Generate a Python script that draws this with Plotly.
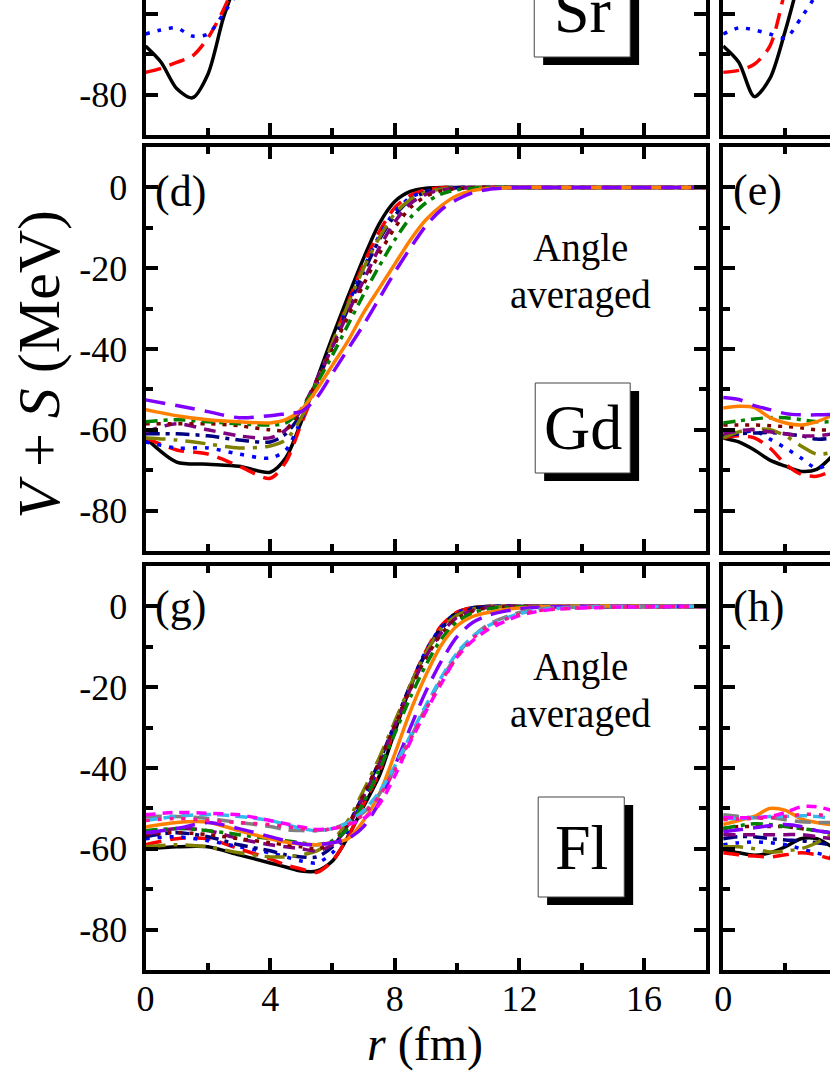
import plotly.graph_objects as go

W, H = 830, 1075

# radial grids (fm)
R_LEFT = [0, 1, 2, 3, 4, 4.5, 5, 5.5, 6, 6.5, 7, 7.5, 8, 8.5, 9, 9.5, 10, 10.5, 11, 12, 13, 18]
R_RIGHT = [0, 0.5, 1, 1.5, 2, 2.5, 3, 3.5, 4]

# Sr panels (only the bottom part is in view)
a_black = [-68, -72, -78.5, -80.8, -75, -61, -50, -38, -27]
a_red = [-74.5, -73.5, -72, -70.5, -66, -59, -50, -40, -30]
a_blue = [-65, -64, -63.5, -65.5, -65, -60, -54, -45, -36]

b_black = [-68, -72, -80.5, -76, -64, -50, -38, -27, -18]
b_red = [-74.5, -74, -72.5, -68, -54, -42, -32, -24, -17]
b_blue = [-65, -63.5, -64, -65, -66, -61, -55, -47, -38]

# Gd, angle averaged
d_black = [-62, -68, -68.5, -69, -70.5, -67, -58, -47.5, -37, -27, -17.5, -9, -3.5, -1, -0.2, 0, 0, 0, 0, 0, 0, 0]
d_red = [-62, -65, -66, -69, -72, -68, -58.5, -49, -38.5, -28.5, -19, -11, -5, -2, -0.6, -0.1, 0, 0, 0, 0, 0, 0]
d_blue = [-63, -64.5, -64.5, -66, -67, -65, -57.5, -49, -39, -29, -20, -12, -6, -2.5, -1, -0.3, 0, 0, 0, 0, 0, 0]
d_navy = [-61, -61, -61.5, -62.5, -63, -61, -56, -48, -39, -30, -21, -13, -7, -3, -1.2, -0.4, -0.1, 0, 0, 0, 0, 0]
d_olive = [-62, -62.5, -63.5, -64.5, -64, -62.5, -57, -48, -38.5, -29, -20, -12.5, -6.5, -3, -1.2, -0.4, -0.1, 0, 0, 0, 0, 0]
d_purple = [-60.5, -58.5, -60, -61.5, -62, -60, -55, -47.5, -39.5, -31, -23, -15, -8.5, -4, -1.7, -0.6, -0.2, 0, 0, 0, 0, 0]
d_maroon = [-58.5, -58.5, -58.5, -59, -60, -60, -55, -48, -40, -32, -24, -16.5, -10, -5, -2.2, -0.8, -0.3, -0.1, 0, 0, 0, 0]
d_green = [-58, -57.5, -58, -58.5, -58.8, -58.3, -55, -48.5, -41.5, -34, -26.5, -19.5, -13, -7.5, -3.8, -1.6, -0.6, -0.2, 0, 0, 0, 0]
d_orange = [-55, -56.5, -57.5, -58, -58.3, -57.5, -55, -50, -44, -38, -31, -25, -19, -13, -8, -4.5, -2, -0.8, -0.3, 0, 0, 0]
d_violet = [-52.6, -54, -55.5, -57, -56.5, -56, -55.5, -52, -46, -40, -34, -27.5, -21, -15, -9.5, -5.5, -3, -1.3, -0.5, 0, 0, 0]

e_black = [-62, -63, -65, -67.5, -69, -70.3, -69.8, -66.5, -62]
e_red = [-62, -61.5, -62, -64.5, -68.5, -71, -71.5, -70, -66]
e_blue = [-61.5, -61, -60.3, -62.3, -64.5, -67, -69.5, -68, -64]
e_navy = [-61.6, -61, -60.8, -60.7, -61, -61.5, -62.3, -62, -61]
e_olive = [-62, -60.5, -59.8, -60, -61.5, -64, -66, -65.5, -63]
e_purple = [-61, -60.2, -60, -60.5, -61, -61.5, -61.5, -61, -60]
e_maroon = [-58.8, -58.8, -58.8, -59, -59.2, -59.5, -60, -60, -59.5]
e_green = [-58.3, -57.8, -57.3, -57, -57, -57.5, -58, -58, -57.5]
e_orange = [-54.6, -54.2, -54.5, -57, -58.3, -58.8, -58, -56.5, -55.5]
e_violet = [-52, -52.5, -54, -55, -56, -56.3, -56.3, -56.2, -56]

# Fl, angle averaged
g_black = [-60, -59.5, -59.5, -61.5, -63.5, -64.5, -65.5, -65.5, -63, -57, -49.5, -42, -31, -20, -11.5, -5, -1.5, -0.3, 0, 0, 0, 0]
g_red = [-59, -57.5, -57.5, -60, -62.5, -64, -65, -65.8, -63, -57, -49, -41, -30, -19.5, -11, -4.7, -1.4, -0.3, 0, 0, 0, 0]
g_blue = [-57.5, -57, -58, -59.5, -61, -62, -63, -63.5, -61, -55.5, -47.5, -39.5, -29.5, -19.5, -11, -5, -1.6, -0.4, 0, 0, 0, 0]
g_navy = [-57, -56, -57, -59, -60.5, -61.5, -62, -62, -59.5, -54, -46.5, -38.5, -29, -19.5, -11.5, -5.5, -2, -0.6, 0, 0, 0, 0]
g_olive = [-59.5, -59, -59.5, -61, -62, -62, -61.5, -60.5, -58, -53, -45.5, -37.5, -28.5, -19.5, -11.5, -5.5, -2.2, -0.7, -0.2, 0, 0, 0]
g_purple = [-56.5, -55, -55.5, -57.5, -59, -59.5, -60, -60.5, -59, -54.5, -47, -39, -29.5, -20.5, -12.5, -6.5, -2.7, -1, -0.3, 0, 0, 0]
g_maroon = [-56.5, -56, -56.5, -57.5, -58.5, -59, -59.5, -60, -58.5, -54, -46.5, -38.5, -29.5, -20.5, -12.8, -6.8, -3, -1.2, -0.4, 0, 0, 0]
g_green = [-55.5, -55, -55.5, -56.5, -57.5, -58, -58.5, -59, -58, -55, -48.5, -40.5, -31.5, -22.5, -14.5, -8, -3.8, -1.6, -0.6, -0.1, 0, 0]
g_orange = [-54.6, -53.5, -53.4, -55.5, -57.5, -58.3, -58.8, -59, -58.5, -57.5, -53, -46.5, -36.5, -26, -17, -9.5, -4.8, -2.5, -1.5, -0.4, 0, 0]
g_violet = [-56, -55, -53.5, -55, -57, -58, -58.8, -59, -58.5, -57.5, -54.5, -48.5, -39.5, -30, -21, -13.5, -7.5, -4, -2.2, -0.6, -0.1, 0]
g_gray = [-52, -52, -52.5, -53.5, -54.5, -55.3, -55.5, -55.5, -55, -53.5, -51, -46.5, -40, -32.5, -25, -18, -12, -7.5, -4.5, -1.5, -0.4, 0]
g_skyblue = [-53, -52, -51.5, -52, -53, -54, -55, -55.5, -55, -53.5, -50.5, -46, -39.5, -32, -24.5, -17.5, -11.5, -7.5, -4.8, -1.8, -0.6, 0]
g_magenta = [-51.6, -51, -51.2, -51.6, -53, -53.8, -54.6, -55.2, -55, -54, -52.5, -49, -42, -33.5, -26, -19, -12.5, -8.5, -5.7, -2.3, -0.8, 0]
g_pink = [-53, -52.5, -53, -53.5, -54, -54.5, -55, -55.5, -55, -54, -51.5, -47, -40.5, -33, -25.5, -18.5, -12.5, -8, -5, -2, -0.7, 0]

h_black = [-60.3, -61, -61.6, -61, -59.5, -57.5, -57.5, -59.5, -61]
h_red = [-61, -61.5, -61.8, -62, -61.5, -61, -61.5, -62.5, -62]
h_blue = [-59, -58.5, -58.3, -58.5, -59, -60, -61, -62, -62]
h_navy = [-57.5, -57, -57, -57.5, -57.8, -58, -58.5, -59, -59]
h_olive = [-59.5, -59.5, -60, -60.8, -60.5, -60, -58.5, -56.5, -57]
h_purple = [-56.5, -56.5, -56.5, -56.5, -56.5, -56.5, -57, -57.5, -57.5]
h_maroon = [-55, -54.5, -54.5, -54.5, -54.5, -55, -55.5, -56, -56]
h_green = [-55, -54.3, -53.8, -54, -54.5, -55, -55.5, -56, -56]
h_orange = [-54, -53, -52, -50, -50.5, -52.6, -53.5, -54, -54]
h_violet = [-55.8, -55.3, -54.8, -54.3, -54, -54.5, -55.5, -56, -56]
h_gray = [-51.6, -52, -52.3, -52.3, -52.8, -53.3, -53.5, -53.5, -53.5]
h_skyblue = [-52.5, -52.5, -52.3, -52, -52, -51.8, -52, -52.5, -53]
h_magenta = [-52.3, -52.3, -52.3, -52, -51, -49.6, -49.6, -50.5, -51.5]
h_pink = [-52.8, -52.6, -52.5, -52.3, -52, -51.5, -51.5, -52, -52.5]

Y_TICKS = [0, -20, -40, -60, -80]
Y_TICKTEXT = ["0", "-20", "-40", "-60", "-80"]
X_TICKS = [0, 4, 8, 12, 16]

STYLE = {
    "black": ("#000000", "solid"),
    "red": ("#ff0000", "16px,9px"),
    "blue": ("#0000ff", "4px,8px"),
    "navy": ("#000080", "14px,6px,4px,6px"),
    "olive": ("#808000", "20px,8px,4px,8px"),
    "purple": ("#800080", "12px,8px"),
    "maroon": ("#800000", "4px,7px"),
    "green": ("#008000", "12px,6px,4px,6px"),
    "orange": ("#ff8000", "solid"),
    "violet": ("#8000ff", "20px,10px"),
    "gray": ("#808080", "16px,8px"),
    "skyblue": ("#33bbee", "12px,6px"),
    "magenta": ("#ff00ff", "10px,7px"),
    "pink": ("#ff1493", "4px,8px"),
}

panels = [
    (0, 0, R_RIGHT, {"black": a_black, "red": a_red, "blue": a_blue}),
    (1, 0, R_RIGHT, {"black": b_black, "red": b_red, "blue": b_blue}),
    (0, 1, R_LEFT, {"black": d_black, "red": d_red, "blue": d_blue, "navy": d_navy, "olive": d_olive,
                    "purple": d_purple, "maroon": d_maroon, "green": d_green, "orange": d_orange,
                    "violet": d_violet}),
    (1, 1, R_RIGHT, {"black": e_black, "red": e_red, "blue": e_blue, "navy": e_navy, "olive": e_olive,
                     "purple": e_purple, "maroon": e_maroon, "green": e_green, "orange": e_orange,
                     "violet": e_violet}),
    (0, 2, R_LEFT, {"black": g_black, "red": g_red, "blue": g_blue, "navy": g_navy, "olive": g_olive,
                    "purple": g_purple, "maroon": g_maroon, "green": g_green, "orange": g_orange,
                    "violet": g_violet, "gray": g_gray, "skyblue": g_skyblue, "magenta": g_magenta,
                    "pink": g_pink}),
    (1, 2, R_RIGHT, {"black": h_black, "red": h_red, "blue": h_blue, "navy": h_navy, "olive": h_olive,
                     "purple": h_purple, "maroon": h_maroon, "green": h_green, "orange": h_orange,
                     "violet": h_violet, "gray": h_gray, "skyblue": h_skyblue, "magenta": h_magenta,
                     "pink": h_pink}),
]

# pixel layout of the (cropped) grid
PX_PER_FM = 31.5
COLS = [(138, 705), (722, 830)]
ROWS = [(0, 135), (147, 551), (566, 970)]
PX_PER_MEV = 404 / 100.0

FONT = "Liberation Serif, Times New Roman, Times, DejaVu Serif, serif"


def fx(px):
    return px / W


def fy(py):
    return 1 - py / H


fig = go.Figure()
layout = {}
for i, (col, row, r, curves) in enumerate(panels):
    n = "" if i == 0 else str(i + 1)
    xa, ya = "x" + n, "y" + n
    for name, vals in curves.items():
        color, dash = STYLE[name]
        fig.add_trace(go.Scatter(
            x=r, y=vals, xaxis=xa, yaxis=ya, mode="lines",
            line=dict(color=color, dash=dash, width=3.5, shape="spline", smoothing=0.8),
            showlegend=False, hoverinfo="skip"))

    x0, x1 = COLS[col]
    y0, y1 = ROWS[row]
    ybot = -90
    ytop = ybot + (y1 - y0) / PX_PER_MEV if row == 0 else 10
    axis = dict(showline=True, linewidth=4, linecolor="black", ticks="inside", ticklen=12,
                tickwidth=3.5, tickcolor="black", showgrid=False, zeroline=False,
                tickfont=dict(family=FONT, size=36, color="black"))
    layout["xaxis" + n] = dict(
        axis, domain=[fx(x0), fx(x1)], range=[0, (x1 - x0) / PX_PER_FM], anchor=ya,
        tickmode="array", tickvals=X_TICKS, ticktext=[str(t) for t in X_TICKS],
        minor=dict(ticks="inside", ticklen=7, tickwidth=3.5, tickcolor="black",
                   tickmode="array", tickvals=[2, 6, 10, 14]),
        ticklabelstandoff=-6,
        mirror="ticks" if row > 0 else False, showticklabels=(row == 2))
    layout["yaxis" + n] = dict(
        axis, domain=[fy(y1), fy(y0)], range=[ybot, ytop], anchor=xa,
        tickmode="array", tickvals=Y_TICKS, ticktext=Y_TICKTEXT,
        minor=dict(ticks="inside", ticklen=7, tickwidth=3.5, tickcolor="black",
                   tickmode="array", tickvals=[-90, -70, -50, -30, -10]),
        ticklabelstandoff=7,
        mirror="ticks" if col == 0 else False, showticklabels=(col == 0))

shapes = []
annotations = []

# element boxes with drop shadow
BOXES = [("Sr", 531, -35, 628, 57), ("Gd", 532, 383, 628, 473), ("Fl", 535, 797, 622, 897)]
for label, bx0, by0, bx1, by1 in BOXES:
    shapes.append(dict(type="rect", xref="paper", yref="paper", x0=fx(bx0 + 9), x1=fx(bx1 + 9),
                       y0=fy(by1 + 8), y1=fy(by0 + 8), fillcolor="black", line=dict(width=0)))
    shapes.append(dict(type="rect", xref="paper", yref="paper", x0=fx(bx0), x1=fx(bx1),
                       y0=fy(by1), y1=fy(by0), fillcolor="white", line=dict(color="#444444", width=1)))
    annotations.append(dict(text=label, xref="paper", yref="paper", x=fx((bx0 + bx1) / 2),
                            y=fy((by0 + by1) / 2), showarrow=False, xanchor="center", yanchor="middle",
                            font=dict(family=FONT, size=64, color="black")))

for lab, lx, ly in [("(d)", 146, 192), ("(e)", 730, 190), ("(g)", 146, 606), ("(h)", 730, 606)]:
    annotations.append(dict(text=lab, xref="paper", yref="paper", x=fx(lx), y=fy(ly), showarrow=False,
                            xanchor="left", yanchor="middle", font=dict(family=FONT, size=44, color="black")))

for top in (147, 566):
    annotations.append(dict(text="Angle", xref="paper", yref="paper", x=fx(578), y=fy(top + 101),
                            showarrow=False, xanchor="center", yanchor="middle",
                            font=dict(family=FONT, size=39, color="black")))
    annotations.append(dict(text="averaged", xref="paper", yref="paper", x=fx(578), y=fy(top + 148),
                            showarrow=False, xanchor="center", yanchor="middle",
                            font=dict(family=FONT, size=39, color="black")))

annotations.append(dict(text="<i>r</i> (fm)", xref="paper", yref="paper", x=fx(421), y=fy(1044),
                        showarrow=False, xanchor="center", yanchor="middle",
                        font=dict(family=FONT, size=48, color="black")))
annotations.append(dict(text="<i>V</i> + <i>S</i> (MeV)", xref="paper", yref="paper", x=fx(30), y=fy(364),
                        showarrow=False, xanchor="center", yanchor="middle", textangle=-90,
                        font=dict(family=FONT, size=60, color="black")))

fig.update_layout(
    width=W, height=H,
    margin=dict(l=0, r=0, t=0, b=0),
    paper_bgcolor="white", plot_bgcolor="white",
    showlegend=False,
    shapes=shapes, annotations=annotations,
    **layout,
)

# page body margin would shift the figure, so drop it
fig.write_html("out.html", config={"displayModeBar": False},
               post_script="document.body.style.margin = '0px';")
